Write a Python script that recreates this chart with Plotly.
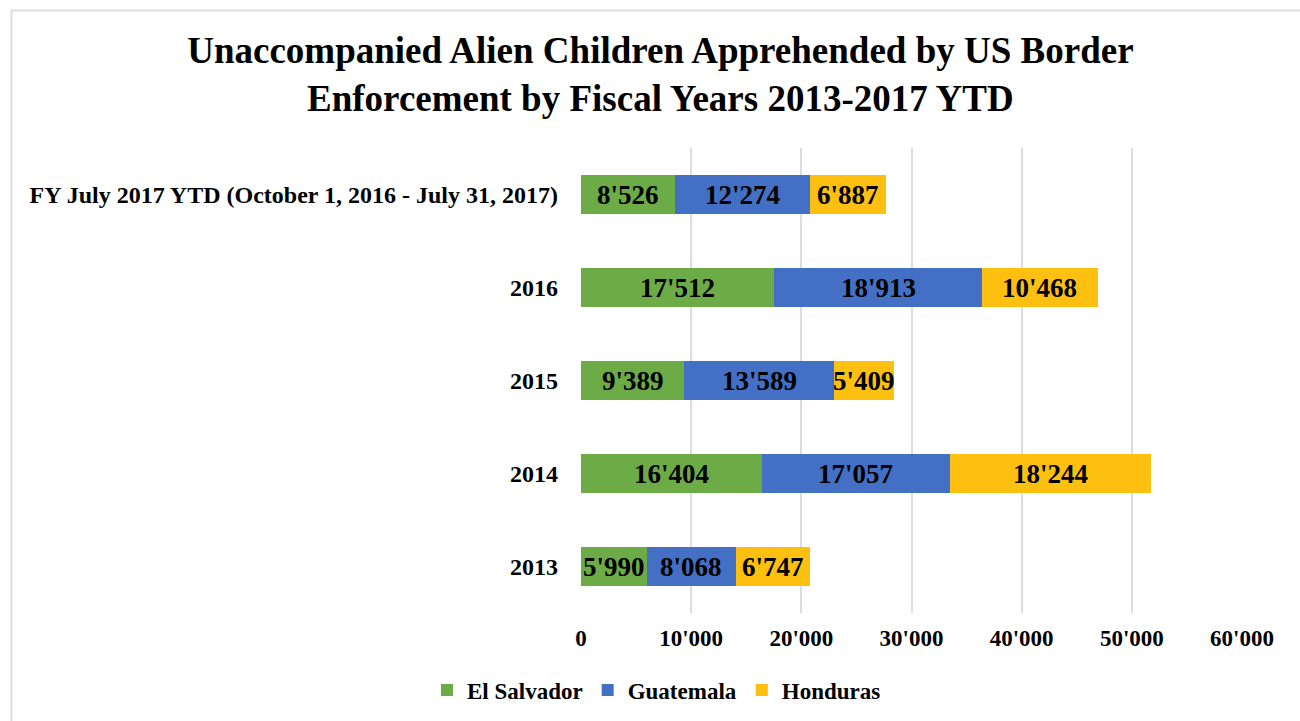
import plotly.graph_objects as go

# Fiscal-year categories (bottom to top) and apprehension counts per country
years = ["2013", "2014", "2015", "2016",
         "FY July 2017 YTD (October 1, 2016 - July 31, 2017)"]
el_salvador = [5990, 16404, 9389, 17512, 8526]
guatemala = [8068, 17057, 13589, 18913, 12274]
honduras = [6747, 18244, 5409, 10468, 6887]
x_ticks = [0, 10000, 20000, 30000, 40000, 50000, 60000]

series = [
    ("El Salvador", el_salvador, "#6DAB47"),
    ("Guatemala", guatemala, "#4370C4"),
    ("Honduras", honduras, "#FDC010"),
]

FONT = "Liberation Serif"
W, H = 1300, 721
L, R, T, B = 581, 58, 148, 108

row_pos = list(range(len(years)))

fig = go.Figure()
for name, vals, color in series:
    fig.add_trace(go.Bar(
        y=row_pos, x=vals, name=name, orientation="h",
        marker=dict(color=color, line=dict(width=0)),
        hovertext=years, hoverinfo="x+name+text",
    ))

# value labels centred on each segment
annotations = []
for yi in row_pos:
    start = 0
    for name, vals, color in series:
        v = vals[yi]
        label = f"{v:,}".replace(",", "'")
        annotations.append(dict(
            x=start + v / 2, y=yi, xref="x", yref="y",
            text=f"<b>{label}</b>", showarrow=False,
            font=dict(family=FONT, size=27, color="#000000"),
        ))
        start += v

# frame around the chart area
pw, ph = W - L - R, H - T - B
def px_to_paper_x(px):
    return (px - L) / pw
def px_to_paper_y(py):
    return (H - B - py) / ph

fig.add_shape(type="rect", xref="paper", yref="paper",
              x0=px_to_paper_x(11.5), x1=px_to_paper_x(1320),
              y0=px_to_paper_y(740), y1=px_to_paper_y(10.5),
              line=dict(color="#DCDDE3", width=2), fillcolor="rgba(0,0,0,0)",
              layer="below")

fig.update_layout(
    width=W, height=H,
    margin=dict(l=L, r=R, t=T, b=B),
    paper_bgcolor="white", plot_bgcolor="white",
    barmode="stack", bargap=0.59,
    separators=".'",
    font=dict(family=FONT, color="#000000"),
    title=dict(
        text="<b>Unaccompanied Alien Children Apprehended by US Border<br>"
             "Enforcement by Fiscal Years 2013-2017 YTD</b>",
        xref="container", yref="container", x=0.508, y=1 - 63 / H,
        xanchor="center", yanchor="middle",
        font=dict(family=FONT, size=37, color="#000000", lineposition="none"),
    ),
    xaxis=dict(
        range=[0, 60000], tickvals=x_ticks, tickformat=",",
        showgrid=True, gridcolor="#DADCE6", gridwidth=2,
        zeroline=False, showline=False, ticks="",
        ticklabelstandoff=9,
        tickfont=dict(family=FONT, size=23, color="#000000", weight="bold"),
        fixedrange=True,
    ),
    yaxis=dict(
        range=[-0.5, len(years) - 0.5],
        tickvals=row_pos, ticktext=years,
        showgrid=False, zeroline=False, showline=False, ticks="",
        ticklabelstandoff=22,
        tickfont=dict(family=FONT, size=24, color="#000000", weight="bold"),
        fixedrange=True,
    ),
    legend=dict(
        orientation="h", xref="container", yref="container",
        x=0.505, y=1 - 690 / H, xanchor="center", yanchor="middle",
        font=dict(family=FONT, size=23, color="#000000", weight="bold"),
        itemwidth=30, traceorder="normal",
    ),
    annotations=annotations,
    showlegend=True,
)

fig.write_html("out.html")
